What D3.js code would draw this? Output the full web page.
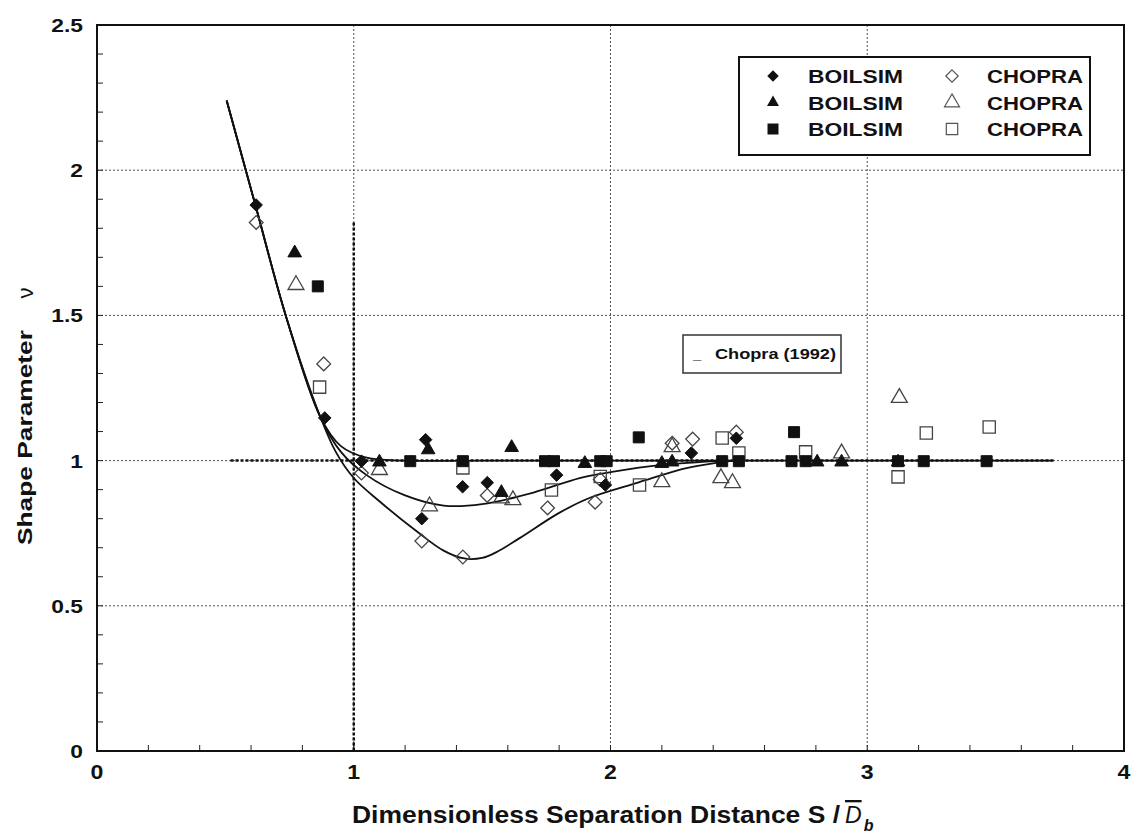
<!DOCTYPE html>
<html>
<head>
<meta charset="utf-8">
<script src="https://cdn.jsdelivr.net/npm/d3@7"></script>
<style>
  body { margin: 0; background: #fff; }
  text { font-family: "Liberation Sans", Arial, sans-serif; font-weight: bold; fill: #111; }
</style>
</head>
<body>
<div id="chart"></div>
<script>
// tick labels
const xTicks = [0, 1, 2, 3, 4]
const yTicks = [0, 0.5, 1, 1.5, 2, 2.5]

// BOILSIM (filled) series
const boilDiamond = [[0.62,1.88],[0.887,1.147],[1.03,0.998],[1.28,1.072],[1.265,0.80],[1.424,0.91],[1.52,0.924],[1.79,0.95],[1.98,0.916],[2.315,1.026],[2.49,1.077]]
const boilTriangle = [[0.77,1.715],[1.10,0.995],[1.29,1.037],[1.615,1.045],[1.575,0.89],[1.90,0.99],[2.20,0.99],[2.24,0.995],[2.805,0.995],[2.90,0.995],[3.12,0.995]]
const boilSquare = [[0.86,1.60],[1.22,0.998],[1.425,0.998],[1.745,0.998],[1.78,0.998],[1.96,0.998],[1.985,0.998],[2.11,1.08],[2.435,0.998],[2.50,0.998],[2.715,1.098],[2.705,0.998],[2.76,0.998],[3.12,0.998],[3.22,0.998],[3.465,0.998]]

// CHOPRA (open) series
const chopDiamond = [[0.62,1.82],[0.883,1.333],[1.03,0.957],[1.265,0.723],[1.425,0.668],[1.52,0.88],[1.755,0.837],[1.94,0.857],[1.96,0.935],[2.24,1.06],[2.32,1.074],[2.49,1.098]]
const chopTriangle = [[0.775,1.605],[1.10,0.968],[1.295,0.843],[1.575,0.87],[1.62,0.864],[2.20,0.926],[2.24,1.047],[2.43,0.94],[2.475,0.923],[2.90,1.025],[3.125,1.216]]
const chopSquare = [[0.867,1.253],[1.425,0.975],[1.77,0.899],[1.96,0.945],[2.113,0.916],[2.435,1.078],[2.50,1.026],[2.76,1.03],[3.12,0.944],[3.23,1.095],[3.475,1.116]]

// fitted curves
const curveUpper = [[0.505,2.24],[0.62,1.87],[0.735,1.5],[0.87,1.15],[0.95,1.05],[1.05,1.01],[1.2,1.0],[1.5,1.0],[3.72,1.0]]
const curveMiddle = [[0.505,2.24],[0.62,1.87],[0.735,1.5],[0.87,1.15],[0.95,1.03],[1.05,0.95],[1.2,0.88],[1.35,0.845],[1.5,0.85],[1.7,0.89],[1.88,0.94],[2.0,0.96],[2.2,0.985],[2.45,1.0]]
const curveLower = [[0.505,2.24],[0.62,1.87],[0.735,1.5],[0.87,1.15],[0.93,1.03],[1.0,0.94],[1.1,0.86],[1.24,0.76],[1.35,0.69],[1.43,0.663],[1.5,0.665],[1.556,0.685],[1.646,0.733],[1.8,0.82],[1.92,0.872],[2.11,0.925],[2.3,0.975],[2.48,1.0]]

// Chopra (1992) dashed limits
const chopraH = [[0.52,1.0],[3.73,1.0]]
const chopraV = [[1.0,1.82],[1.0,0.0]]

const width = 1136
const height = 834
const margin = {left: 97, top: 25, right: 12, bottom: 83}

const svg = d3.select("#chart").append("svg")
    .attr("width", width)
    .attr("height", height)

const x = d3.scaleLinear().domain([0, 4]).range([margin.left, width - margin.right])
const y = d3.scaleLinear().domain([0, 2.5]).range([height - margin.bottom, margin.top])

// grid
svg.append("g").selectAll("line")
    .data([1, 2, 3])
    .enter().append("line")
    .attr("x1", d => x(d)).attr("x2", d => x(d))
    .attr("y1", y(2.5)).attr("y2", y(0))
    .attr("stroke", "#555").attr("stroke-width", 1)
    .attr("stroke-dasharray", "2,2")
svg.append("g").selectAll("line")
    .data([0.5, 1, 1.5, 2])
    .enter().append("line")
    .attr("x1", x(0)).attr("x2", x(4))
    .attr("y1", d => y(d)).attr("y2", d => y(d))
    .attr("stroke", "#555").attr("stroke-width", 1)
    .attr("stroke-dasharray", "2,2")

// minor ticks
svg.append("g").selectAll("line")
    .data(d3.range(0.2, 4, 0.2))
    .enter().append("line")
    .attr("x1", d => x(d)).attr("x2", d => x(d))
    .attr("y1", y(0)).attr("y2", y(0) - 6)
    .attr("stroke", "#222")
svg.append("g").selectAll("line")
    .data(d3.range(0.1, 2.5, 0.1))
    .enter().append("line")
    .attr("x1", x(0)).attr("x2", x(0) + 6)
    .attr("y1", d => y(d)).attr("y2", d => y(d))
    .attr("stroke", "#222")

// frame
svg.append("rect")
    .attr("x", x(0)).attr("y", y(2.5))
    .attr("width", x(4) - x(0)).attr("height", y(0) - y(2.5))
    .attr("fill", "none").attr("stroke", "#111").attr("stroke-width", 2)

// tick labels (the scan is a bit wide, so stretch horizontally)
svg.append("g").selectAll("text")
    .data(xTicks)
    .enter().append("text")
    .attr("transform", d => `translate(${x(d)},${y(0) + 28}) scale(1.1,1)`)
    .attr("text-anchor", "middle")
    .style("font-size", "21px")
    .text(d => d)
svg.append("g").selectAll("text")
    .data(yTicks)
    .enter().append("text")
    .attr("transform", d => `translate(${x(0) - 14},${y(d) + 7}) scale(1.2,1)`)
    .attr("text-anchor", "end")
    .style("font-size", "19px")
    .text(d => d)

// Chopra (1992) dashed lines
const line = d3.line().x(d => x(d[0])).y(d => y(d[1]))
svg.append("path").datum(chopraH)
    .attr("d", line)
    .attr("fill", "none").attr("stroke", "#111").attr("stroke-width", 2.5)
    .attr("stroke-dasharray", "3,2")
svg.append("path").datum(chopraV)
    .attr("d", line)
    .attr("fill", "none").attr("stroke", "#111").attr("stroke-width", 2.5)
    .attr("stroke-dasharray", "3,2")

// curves
const smooth = d3.line().x(d => x(d[0])).y(d => y(d[1])).curve(d3.curveCatmullRom.alpha(0.5))
;[curveUpper, curveMiddle, curveLower].forEach(c => {
    svg.append("path").datum(c)
        .attr("d", smooth)
        .attr("fill", "none").attr("stroke", "#111").attr("stroke-width", 1.8)
})

// markers
const series = [
    {data: chopDiamond, type: d3.symbolDiamond2, size: 120, filled: false},
    {data: chopTriangle, type: d3.symbolTriangle, size: 110, filled: false},
    {data: chopSquare, type: d3.symbolSquare, size: 150, filled: false},
    {data: boilDiamond, type: d3.symbolDiamond2, size: 100, filled: true},
    {data: boilTriangle, type: d3.symbolTriangle, size: 80, filled: true},
    {data: boilSquare, type: d3.symbolSquare, size: 121, filled: true}
]
series.forEach(s => {
    svg.append("g").selectAll("path")
        .data(s.data)
        .enter().append("path")
        .attr("transform", d => `translate(${x(d[0])},${y(d[1])})`)
        .attr("d", d3.symbol().type(s.type).size(s.size))
        .attr("fill", s.filled ? "#111" : "none")
        .attr("stroke", s.filled ? "#111" : "#444")
        .attr("stroke-width", s.filled ? 1 : 1.3)
})

// legend
const lg = svg.append("g")
lg.append("rect")
    .attr("x", 739).attr("y", 57).attr("width", 351).attr("height", 98)
    .attr("fill", "#fff").attr("stroke", "#111").attr("stroke-width", 2)
const legendRows = [
    {type: d3.symbolDiamond2, sb: 85, so: 98},
    {type: d3.symbolTriangle, sb: 62, so: 97},
    {type: d3.symbolSquare, sb: 121, so: 130}
]
legendRows.forEach((r, i) => {
    const ly = 76 + i * 26.5
    lg.append("path").attr("transform", `translate(773,${ly})`)
        .attr("d", d3.symbol().type(r.type).size(r.sb)).attr("fill", "#111")
    lg.append("text").attr("x", 808).attr("y", ly + 7)
        .attr("textLength", 95).attr("lengthAdjust", "spacingAndGlyphs")
        .style("font-size", "18px").text("BOILSIM")
    lg.append("path").attr("transform", `translate(952,${ly})`)
        .attr("d", d3.symbol().type(r.type).size(r.so))
        .attr("fill", "none").attr("stroke", "#555").attr("stroke-width", 1.2)
    lg.append("text").attr("x", 987).attr("y", ly + 7)
        .attr("textLength", 96).attr("lengthAdjust", "spacingAndGlyphs")
        .style("font-size", "18px").text("CHOPRA")
})

// Chopra (1992) box
svg.append("rect")
    .attr("x", 683).attr("y", 335).attr("width", 158).attr("height", 38)
    .attr("fill", "#fff").attr("stroke", "#333").attr("stroke-width", 1.5)
svg.append("text").attr("x", 693).attr("y", 359)
    .style("font-size", "15px").text("_")
svg.append("text").attr("x", 715).attr("y", 359)
    .attr("textLength", 121).attr("lengthAdjust", "spacingAndGlyphs")
    .style("font-size", "15px").text("Chopra (1992)")

// axis titles
svg.append("text")
    .attr("transform", "rotate(-90)")
    .attr("x", -545).attr("y", 32)
    .attr("textLength", 215).attr("lengthAdjust", "spacingAndGlyphs")
    .style("font-size", "21px")
    .text("Shape Parameter")
svg.append("text")
    .attr("transform", "rotate(-90)")
    .attr("x", -293).attr("y", 33)
    .attr("text-anchor", "middle")
    .style("font-size", "22px")
    .style("font-weight", "normal")
    .text("\u03bd")

svg.append("text")
    .attr("x", 352).attr("y", 823)
    .attr("textLength", 488).attr("lengthAdjust", "spacingAndGlyphs")
    .style("font-size", "23px")
    .text("Dimensionless Separation Distance S /")
const dt = svg.append("text")
    .attr("x", 845).attr("y", 823)
    .style("font-size", "23px").style("font-style", "italic")
dt.append("tspan").style("text-decoration", "overline").style("font-weight", "normal").text("D")
dt.append("tspan").attr("dy", 8).attr("dx", 2).style("font-size", "16px").text("b")
</script>
</body>
</html>
